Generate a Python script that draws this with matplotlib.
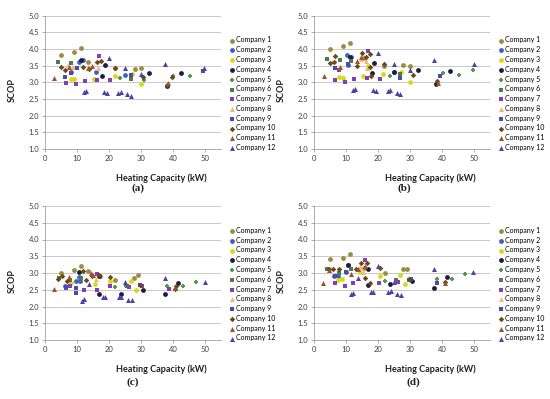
import matplotlib.pyplot as plt

# ---------------------- Data ---------------------- #
companies = ['Company %d' % i for i in range(1, 13)]
colors = ['#9C8C40', '#3F5FC8', '#D8D818', '#1C1C48', '#4E9A4E', '#4F7A4F',
          '#8040B0', '#F0B878', '#4A4AB0', '#6B4A1A', '#A0502A', '#5040A8']
markers = ['o', 'o', 'o', 'o', 'P', 's', 's', '^', 's', 'D', '^', '^']

# panel (a)
a_x = [[5, 9, 11.2, 13.5, 22, 28, 30],
       [10.5, 8, 12, 25, 16],
       [15.3, 21.9, 27.1, 29.9, 8, 9.1],
       [11.1, 18.9, 32.4, 42.6, 38, 17.7],
       [23.5, 30.9, 40.1, 45.3, 26.8],
       [4.2, 8, 26.8],
       [6.6, 9.8, 12.5, 16.8, 20.4, 16.4],
       [16.5, 7.2, 8.6],
       [6.25, 10.1, 8.1, 49.5, 26.8],
       [5, 6.4, 12, 13.75, 17.4, 16.1, 22, 30.7, 38, 39.8],
       [2.9, 7.6, 14.7, 38.5, 13.5],
       [12.2, 12.9, 18.5, 19.3, 22.9, 23.7, 25.6, 26.8, 20, 25, 29.9, 37.4, 49.8]]
a_y = [[3.82, 3.9, 4.02, 3.62, 3.42, 3.4, 3.42],
       [3.62, 3.3, 3.68, 3.22, 3.3],
       [3.09, 3.19, 3.25, 2.95, 3.11, 3.09],
       [3.67, 3.51, 3.29, 3.29, 2.9, 3.19],
       [3.14, 3.07, 3.19, 3.19, 3.17],
       [3.62, 3.59, 3.09],
       [2.99, 2.96, 3.05, 3.79, 3.06, 3.07],
       [3.42, 3.52, 3.45],
       [3.17, 3.42, 3.27, 3.35, 3.21],
       [3.47, 3.37, 3.47, 3.39, 3.64, 3.6, 3.43, 3.15, 2.93, 3.15],
       [3.14, 3.45, 3.5, 2.97, 3.42],
       [2.72, 2.75, 2.7, 2.69, 2.67, 2.71, 2.64, 2.6, 3.72, 3.43, 3.25, 3.54, 3.44]]

# panel (b)
b_x = [[5, 9.1, 11.25, 27.9, 30.1, 22, 15.6],
       [10.4, 11.6, 10.5, 24.9],
       [7.9, 9.1, 15.3, 21.7, 27.1, 30, 16.9],
       [11.25, 18.75, 24.9, 32.5, 42.6, 38.1, 18.1],
       [23.75, 26.9, 40.2, 45.2, 49.6],
       [4.2, 8, 11.6, 26.9],
       [6.5, 9.8, 12.5, 16.5, 20.6, 16.9, 7.8],
       [16.1, 14.6, 16.7],
       [6.5, 10.6, 26.9, 39.4],
       [4.9, 6.5, 6.25, 13.4, 15.1, 16.4, 17.6, 21.9, 30.8, 38.5, 17.6, 17.9],
       [3.1, 8.1, 13.5, 14.6, 38.75],
       [12.3, 12.9, 18.4, 19.3, 23.1, 23.9, 25.8, 27, 20.1, 24.9, 29.9, 37.4, 50]]
b_y = [[4.0, 4.09, 4.19, 3.53, 3.48, 3.5, 3.72],
       [3.81, 3.77, 3.51, 3.31],
       [3.17, 3.14, 3.18, 3.25, 3.31, 3.0, 3.49],
       [3.76, 3.59, 3.31, 3.36, 3.34, 2.96, 3.27],
       [3.2, 3.23, 3.27, 3.23, 3.38],
       [3.7, 3.66, 3.64, 3.25],
       [3.06, 3.02, 3.11, 3.13, 3.1, 3.95, 3.37],
       [3.65, 3.69, 3.42],
       [3.42, 3.54, 3.12, 3.19],
       [3.59, 3.79, 3.61, 3.49, 3.89, 3.76, 3.84, 3.54, 3.21, 3.03, 3.47, 3.19],
       [3.2, 3.47, 3.64, 3.75, 2.97],
       [2.77, 2.8, 2.76, 2.75, 2.75, 2.77, 2.68, 2.64, 3.89, 3.54, 3.36, 3.66, 3.54]]

# panel (c)
c_x = [[5, 9.1, 11.25, 13.5, 22, 27.8, 29.1, 17.2],
       [10.6, 6.35, 9.8, 10.9],
       [8, 20.3, 26.9, 28.3, 15.6],
       [10.6, 16.8, 23.6, 30.7, 37.4, 41.7, 16.8],
       [22, 25.3, 38.1, 43, 47.2],
       [4.4, 7.8, 11.35, 25.5],
       [6.6, 7.7, 12.3, 16.1, 20.4, 16.4, 26.1, 30.3, 38.9],
       [15.9],
       [6.7, 9.8, 9.7, 29.7],
       [4.2, 5.2, 6.8, 12.9, 14.6, 17, 20.4, 29.6, 40.8, 40.6, 12],
       [2.9, 7.6, 14.3, 15, 40.5],
       [11.5, 12.1, 18, 18.9, 23.1, 23.9, 26, 27.3, 24.9, 37.4, 50.1, 13.85]]
c_y = [[3.0, 3.08, 3.21, 3.06, 2.78, 2.84, 2.95, 2.9],
       [2.87, 2.6, 2.75, 2.75],
       [2.7, 2.76, 2.76, 2.48, 2.66],
       [3.02, 2.9, 2.38, 2.5, 2.36, 2.69, 2.38],
       [2.58, 2.62, 2.62, 2.62, 2.74],
       [2.86, 2.78, 2.84, 2.6],
       [2.56, 2.62, 2.48, 2.49, 2.6, 2.98, 2.58, 2.6, 2.52],
       [2.82],
       [2.58, 2.54, 2.4, 2.63],
       [2.82, 2.92, 2.75, 2.8, 2.9, 2.95, 2.88, 2.65, 2.6, 2.53, 3.06],
       [2.52, 2.87, 3.0, 2.94, 2.55],
       [2.15, 2.22, 2.27, 2.27, 2.27, 2.29, 2.2, 2.2, 2.72, 2.84, 2.73, 2.68]]

# panel (d)
d_x = [[5, 9.1, 11.25, 22.1, 27.9, 29.1, 15.6],
       [10.6, 9.9, 6.35, 7.5],
       [7.5, 8.75, 20.6, 26.8, 28.3, 14.3],
       [10.6, 17, 23.75, 30.7, 37.5, 41.7, 16.9],
       [22.1, 25.6, 38.4, 43.1, 47.3],
       [4.1, 7.8, 11.5, 25.5, 29.6],
       [6.6, 9.6, 12.3, 16, 20.2, 26.25, 38.5],
       [14.3, 15.3],
       [6.6, 9.9, 30.4, 38.5],
       [4.6, 6, 7.7, 13.2, 14.6, 16.7, 16, 20.6, 29.6, 40.8, 17.6],
       [2.9, 4.7, 11.5, 13.75, 15.8, 41],
       [11.7, 12.3, 17.7, 18.5, 23.1, 24.2, 25.8, 27.2, 25, 37.4, 49.8, 13.6, 19.9]]
d_y = [[3.42, 3.46, 3.57, 3.01, 3.12, 3.11, 3.14],
       [3.24, 3.04, 2.92, 2.9],
       [2.8, 2.81, 2.9, 2.94, 2.66, 3.04],
       [3.23, 3.13, 2.66, 2.76, 2.56, 2.88, 2.65],
       [2.76, 2.8, 2.82, 2.82, 2.96],
       [3.13, 3.01, 3.11, 2.8, 2.78],
       [2.71, 2.6, 2.69, 3.4, 2.71, 2.74, 2.71],
       [3.19, 3.04],
       [2.9, 3.02, 2.82, 2.7],
       [3.12, 3.12, 3.12, 3.13, 3.29, 3.29, 2.85, 3.15, 2.83, 2.73, 2.71],
       [2.7, 3.08, 2.96, 3.12, 3.22, 2.7],
       [2.36, 2.4, 2.42, 2.42, 2.42, 2.46, 2.36, 2.35, 2.72, 3.11, 3.02, 2.85, 3.21]]

panel_labels = ['(a)', '(b)', '(c)', '(d)']
x_ticks = [0, 10, 20, 30, 40, 50]
y_ticks = [1.0, 1.5, 2.0, 2.5, 3.0, 3.5, 4.0, 4.5, 5.0]

# ---------------------- Figure ---------------------- #
plt.rcParams['font.family'] = ['Lato', 'DejaVu Sans']
fig = plt.figure(figsize=(5.5, 3.99), dpi=100)

W, H = 550.0, 399.0
# axes boxes in pixels: left, top, right, bottom
boxes = [(45, 15.7, 221, 149), (314, 15.7, 490, 149),
         (45, 206, 221, 340), (314, 206, 490, 340)]
label_pos = [(138, 188), (404, 188), (133, 382), (413, 382)]
panels = [(a_x, a_y), (b_x, b_y), (c_x, c_y), (d_x, d_y)]
sizes = {'o': 12, 's': 11, '^': 13, 'D': 8, 'P': 8}

for (px, py), (l, t, r, b), lab, lp in zip(panels, boxes, panel_labels, label_pos):
    ax = fig.add_axes([l / W, 1 - b / H, (r - l) / W, (b - t) / H])
    handles = []
    for i in range(12):
        h = ax.scatter(px[i], py[i], s=sizes[markers[i]], c=colors[i], marker=markers[i],
                       linewidths=0, zorder=3, label=companies[i])
        handles.append(h)
    ax.set_xlim(0, 55)
    ax.set_ylim(1.0, 5.0)
    ax.set_xticks(x_ticks)
    ax.set_yticks(y_ticks)
    ax.set_yticklabels(['%.1f' % v for v in y_ticks])
    ax.tick_params(labelsize=5.5, length=2, width=0.5, colors='#888888',
                   labelcolor='#404040', pad=2)
    ax.grid(axis='y', color='#C0C0C0', linewidth=0.6)
    ax.set_axisbelow(True)
    for s in ['top', 'right']:
        ax.spines[s].set_visible(False)
    for s in ['left', 'bottom']:
        ax.spines[s].set_color('#A0A0A0')
        ax.spines[s].set_linewidth(0.6)
    ax.set_xlabel('Heating Capacity (kW)', fontsize=6.5, fontweight='bold', color='#202020')
    ax.set_ylabel('SCOP', fontsize=6.5, fontweight='bold', color='#202020')
    ax.xaxis.set_label_coords(0.66, -0.185)
    ax.yaxis.set_label_coords(-0.16, 0.44)
    ax.legend(handles=handles, loc='upper left', bbox_to_anchor=(1.035, 0.865),
              frameon=False, fontsize=5, handletextpad=0.2, labelspacing=0.4,
              borderaxespad=0, handlelength=0.7, markerscale=1.0)
    fig.text(lp[0] / W, 1 - lp[1] / H, lab, fontsize=8, family='Liberation Serif',
             fontweight='bold', ha='center', va='center', color='#202020')

fig.savefig('out.png', dpi=100)
